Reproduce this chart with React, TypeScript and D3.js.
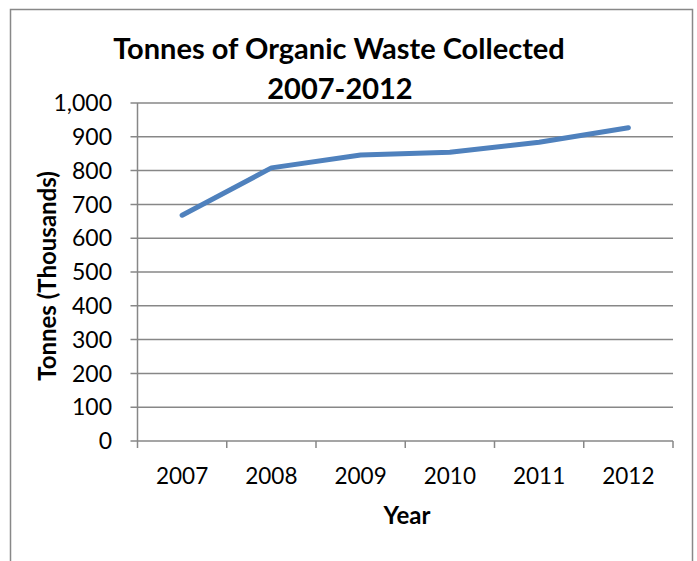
import React from "react";
import * as d3 from "d3";

const years = ["2007", "2008", "2009", "2010", "2011", "2012"];
const tonnes = [668, 808, 846, 854, 884, 927];
const yTicks = [0, 100, 200, 300, 400, 500, 600, 700, 800, 900, 1000];

export default function App() {
  const W = 697, H = 561;
  const left = 137.5, right = 673, top = 103, bottom = 441;
  const x = d3.scaleBand<string>().domain(years).range([left, right]);
  const y = d3.scaleLinear().domain([0, 1000]).range([bottom, top]);
  const line = d3
    .line<number>()
    .x((_, i) => (x(years[i]) as number) + x.bandwidth() / 2)
    .y((d) => y(d))
    .curve(d3.curveLinear);
  const font = "Lato, Carlito, Calibri, sans-serif";
  const fmt = d3.format(",");
  const grid = "#878787";
  return (
    <svg width={W} height={H} style={{ position: "absolute", left: 0, top: 0 }} fontFamily={font}>
      <rect x={0} y={0} width={W} height={H} fill="white" />
      <rect x={10.5} y={9.5} width={682} height={600} fill="white" stroke="#888" strokeWidth={1.5} />
      <text x={339} y={59} textAnchor="middle" fontWeight="bold" fontSize={29}>
        Tonnes of Organic Waste Collected
      </text>
      <text x={340} y={99} textAnchor="middle" fontWeight="bold" fontSize={29}>
        2007-2012
      </text>
      {yTicks.map((t) => (
        <g key={t}>
          <line x1={left - 7} x2={right} y1={y(t)} y2={y(t)} stroke={grid} strokeWidth={1.5} />
          <text x={112} y={y(t)} dy="0.36em" textAnchor="end" fontSize={23}>
            {fmt(t)}
          </text>
        </g>
      ))}
      <line x1={left} x2={left} y1={top} y2={bottom + 7} stroke={grid} strokeWidth={1.5} />
      {years.map((yr) => (
        <g key={yr}>
          <line
            x1={(x(yr) as number) + x.bandwidth()}
            x2={(x(yr) as number) + x.bandwidth()}
            y1={bottom}
            y2={bottom + 7}
            stroke={grid}
            strokeWidth={1.5}
          />
          <text x={(x(yr) as number) + x.bandwidth() / 2} y={484} textAnchor="middle" fontSize={22.5}>
            {yr}
          </text>
        </g>
      ))}
      <path d={line(tonnes) || ""} fill="none" stroke="#4F81BD" strokeWidth={5} strokeLinecap="round" strokeLinejoin="round" />
      <text x={407} y={524} textAnchor="middle" fontWeight="bold" fontSize={24}>
        Year
      </text>
      <text transform={`translate(56,276) rotate(-90)`} textAnchor="middle" fontWeight="bold" fontSize={24}>
        Tonnes (Thousands)
      </text>
    </svg>
  );
}
